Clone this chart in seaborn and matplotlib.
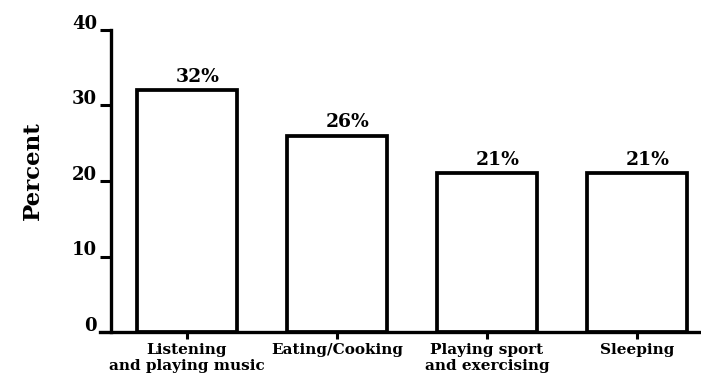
import matplotlib
matplotlib.use("Agg")
import matplotlib.pyplot as plt
import matplotlib.transforms as mtransforms
import seaborn as sns
import pandas as pd

categories = ["Listening\nand playing music", "Eating/Cooking", "Playing sport\nand exercising", "Sleeping"]
values = [32, 26, 21, 21]
value_labels = ["32%", "26%", "21%", "21%"]
yticks = [0, 10, 20, 30, 40]

sns.set_style("white")
plt.rcParams['font.family'] = ['DejaVu Serif', 'Liberation Serif']
plt.rcParams['font.weight'] = 'bold'
plt.rcParams['text.color'] = 'black'
plt.rcParams['axes.labelcolor'] = 'black'
plt.rcParams['xtick.color'] = 'black'
plt.rcParams['ytick.color'] = 'black'

df = pd.DataFrame({"cat": categories, "val": values})

fig = plt.figure(figsize=(7.01, 3.80), dpi=100)
ax = fig.add_axes([100/701, (380-332)/380, 1 - 100/701, (332-30)/380])

sns.barplot(data=df, x="cat", y="val", ax=ax, color="white", edgecolor="black",
            linewidth=2.7, width=0.667, saturation=1)

for s in ["top", "right"]:
    ax.spines[s].set_visible(False)
ax.spines["left"].set_position(("data", -0.507))
ax.spines["left"].set_linewidth(2.4)
ax.spines["bottom"].set_linewidth(2.4)
ax.spines["left"].set_color("black")
ax.spines["bottom"].set_color("black")

ax.set_ylim(0, 40)
ax.set_xlim(-0.58, 3.427)
ax.set_yticks(yticks)
ax.set_yticklabels([str(t) for t in yticks])
ax.set_xticks(range(len(categories)))
ax.set_xticklabels(categories, linespacing=1.2)
ax.tick_params(axis="y", direction="out", length=8, width=2.2, colors="black",
               pad=2, left=True, labelsize=13)
ax.tick_params(axis="x", direction="out", length=5, width=2.2, colors="black",
               pad=3, bottom=True, labelsize=11)
offset = mtransforms.ScaledTranslation(0, 6 / 72, fig.dpi_scale_trans)
for t in ax.get_yticklabels():
    t.set_fontweight('bold')
    t.set_transform(t.get_transform() + offset)
for t in ax.get_xticklabels():
    t.set_fontweight('bold')
ax.set_xlabel("")
ax.set_ylabel("Percent", fontsize=16.5, fontweight='bold')
ax.yaxis.set_label_coords(-0.094, 0.536)

for i, (v, lab) in enumerate(zip(values, value_labels)):
    ax.text(i + 0.07, v + 0.6, lab, ha="center", va="bottom", fontsize=13.5, fontweight='bold')

fig.savefig("out.png", dpi=100)
